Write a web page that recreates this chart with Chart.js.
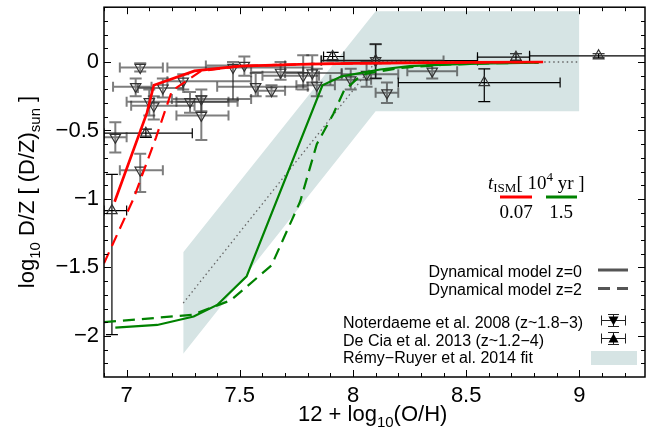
<!DOCTYPE html>
<html>
<head>
<meta charset="utf-8">
<script src="https://cdn.jsdelivr.net/npm/chart.js@4.4.1/dist/chart.umd.min.js"></script>
<style>
  html, body { margin: 0; padding: 0; background: #fff; }
  #wrap { width: 653px; height: 435px; }
</style>
</head>
<body>
<div id="wrap"><canvas id="dz" width="653" height="435"></canvas></div>
<script>
// axis ticks
const xTicks = [7, 7.5, 8, 8.5, 9];
const yTicks = [0, -0.5, -1, -1.5, -2];

// Dynamical model, t_ISM = 0.07 (red) and 1.5 (green), z=0 solid / z=2 dashed
const redZ0OH = [6.947, 7.09, 7.12, 7.30, 7.50, 7.80, 8.00, 8.50, 8.84];
const redZ0DZ = [-1.02, -0.37, -0.17, -0.065, -0.03, -0.015, -0.01, -0.003, 0.0];
const redZ2OH = [6.90, 7.03, 7.13, 7.20, 7.33, 7.50, 7.80, 8.00, 8.50, 8.84];
const redZ2DZ = [-1.47, -1.0, -0.55, -0.21, -0.065, -0.03, -0.015, -0.01, -0.003, 0.0];
const grnZ0OH = [6.95, 7.135, 7.296, 7.40, 7.53, 7.865, 7.95, 8.12, 8.25, 8.43, 8.60, 8.82];
const grnZ0DZ = [-1.94, -1.92, -1.858, -1.774, -1.565, -0.17, -0.105, -0.055, -0.03, -0.018, -0.01, -0.005];
const grnZ2OH = [6.90, 7.29, 7.46, 7.64, 7.767, 7.84, 7.913, 7.96, 8.02, 8.06, 8.20, 8.40, 8.60, 8.82];
const grnZ2DZ = [-1.90, -1.846, -1.74, -1.485, -1.017, -0.60, -0.38, -0.21, -0.12, -0.085, -0.045, -0.02, -0.01, -0.005];

// Remy-Ruyer et al. 2014 fit: band edges and central line
const fitOH = [7.25, 8.1, 9.0];
const fitHi = [-1.39, 0.37, 0.37];
const fitLo = [-2.13, -0.36, -0.36];
const fitDZ = [-1.76, 0.0, 0.0];

// Noterdaeme et al. 2008
const notOH   = [7.06, 7.04, 7.10, 7.12, 7.16, 7.25, 7.28, 7.33, 7.33, 7.47, 7.52, 7.57, 7.64, 7.68, 7.78, 7.82, 7.84, 6.95, 7.06, 7.99, 8.06, 8.10, 8.15, 8.35];
const notDZ   = [-0.04, -0.18, -0.29, -0.32, -0.19, -0.14, -0.29, -0.27, -0.39, -0.04, -0.025, -0.18, -0.21, -0.075, -0.10, -0.08, -0.17, -0.55, -0.79, -0.13, -0.09, 0.01, -0.225, -0.067];
const notOHlo = [6.97, 6.94, 7.00, 7.02, 7.05, 7.18, 7.22, 7.20, 7.22, 7.18, 7.35, 7.40, 7.58, 7.55, 7.60, 7.70, 7.75, 6.90, 6.97, 7.90, 7.95, 7.86, 8.10, 8.24];
const notOHhi = [7.16, 7.11, 7.49, 7.30, 7.25, 7.55, 7.45, 7.55, 7.45, 7.82, 7.70, 7.80, 7.70, 7.78, 7.85, 7.95, 7.92, 7.00, 7.16, 8.08, 8.20, 8.40, 8.20, 8.46];
const notDZlo = [-0.07, -0.25, -0.39, -0.42, -0.26, -0.20, -0.37, -0.36, -0.57, -0.28, -0.10, -0.25, -0.25, -0.13, -0.20, -0.15, -0.25, -0.66, -0.95, -0.20, -0.18, -0.12, -0.30, -0.12];
const notDZhi = [-0.01, -0.12, -0.20, -0.25, -0.12, -0.09, -0.22, -0.20, -0.25, 0.00, 0.04, -0.08, -0.17, 0.00, 0.05, 0.05, -0.05, -0.44, -0.67, -0.05, 0.00, 0.13, -0.15, -0.02];

// De Cia et al. 2013
const dcOH   = [6.935, 7.085, 7.91, 8.10, 8.58, 8.72, 9.085];
const dcDZ   = [-1.085, -0.52, 0.04, 0.01, -0.15, 0.035, 0.045];
const dcOHlo = [6.90, 6.90, 7.87, 7.86, 8.20, 8.55, 8.78];
const dcOHhi = [7.00, 7.29, 7.96, 8.55, 8.915, 8.78, 9.40];
const dcDZlo = [-1.99, -0.55, 0.01, -0.12, -0.29, 0.01, 0.03];
const dcDZhi = [-0.82, -0.49, 0.07, 0.13, -0.05, 0.06, 0.06];

const tLabels = ['0.07', '1.5'];
const RED = '#ff0000', GREEN = '#008200', BAND = 'rgb(214,228,228)';
const SANS = '"Liberation Sans", Arial, sans-serif';
const SERIF = '"Liberation Serif", "Times New Roman", serif';

const pts = (xs, ys) => xs.map((v, i) => ({ x: v, y: ys[i] }));
const errs = (xlo, xhi, ylo, yhi) => xlo.map((v, i) => ({ xlo: v, xhi: xhi[i], ylo: ylo[i], yhi: yhi[i] }));

// text made of runs with their own font and vertical offset (sub/superscripts)
function drawRuns(ctx, runs, x, y, align) {
  let w = 0;
  runs.forEach(r => { ctx.font = r.f; w += ctx.measureText(r.t).width; });
  let cx = align === 'center' ? x - w / 2 : align === 'right' ? x - w : x;
  ctx.textAlign = 'left';
  ctx.textBaseline = 'alphabetic';
  runs.forEach(r => {
    ctx.font = r.f;
    ctx.fillText(r.t, cx, y + (r.dy || 0));
    cx += ctx.measureText(r.t).width;
  });
}

// error bars are drawn right under their markers
const errorBars = {
  id: 'errorBars',
  beforeDatasetDraw(chart, args) {
    const ds = chart.data.datasets[args.index];
    if (!ds.err) return;
    const { ctx, chartArea: a, scales: { x, y } } = chart;
    ctx.save();
    ctx.beginPath();
    ctx.rect(a.left, a.top, a.right - a.left, a.bottom - a.top);
    ctx.clip();
    ctx.strokeStyle = ds.errColor;
    ctx.lineWidth = ds.errWidth;
    ds.err.forEach((e, i) => {
      const px = x.getPixelForValue(ds.data[i].x);
      const py = y.getPixelForValue(ds.data[i].y);
      const x0 = x.getPixelForValue(e.xlo), x1 = x.getPixelForValue(e.xhi);
      const y0 = y.getPixelForValue(e.ylo), y1 = y.getPixelForValue(e.yhi);
      ctx.beginPath();
      ctx.moveTo(x0, py); ctx.lineTo(x1, py);
      ctx.moveTo(x0, py - 5); ctx.lineTo(x0, py + 5);
      ctx.moveTo(x1, py - 5); ctx.lineTo(x1, py + 5);
      ctx.moveTo(px, y0); ctx.lineTo(px, y1);
      ctx.moveTo(px - 6, y0); ctx.lineTo(px + 6, y0);
      ctx.moveTo(px - 6, y1); ctx.lineTo(px + 6, y1);
      ctx.stroke();
    });
    ctx.restore();
  }
};

// box around the plot with inward major/minor ticks on all four sides
const frame = {
  id: 'frame',
  afterDatasetsDraw(chart) {
    const { ctx, chartArea: a, scales: { x, y } } = chart;
    ctx.save();
    ctx.strokeStyle = '#000';
    ctx.lineWidth = 1.5;
    ctx.strokeRect(a.left, a.top, a.right - a.left, a.bottom - a.top);
    ctx.lineWidth = 1;
    ctx.beginPath();
    for (let k = 69; k <= 92; k++) {
      const v = k / 10;
      const len = k % 5 === 0 ? 7 : 4;
      const px = Math.round(x.getPixelForValue(v)) + 0.5;
      if (px <= a.left || px >= a.right) continue;
      ctx.moveTo(px, a.bottom); ctx.lineTo(px, a.bottom - len);
      ctx.moveTo(px, a.top); ctx.lineTo(px, a.top + len);
    }
    for (let k = -23; k <= 4; k++) {
      const v = k / 10;
      const len = k % 5 === 0 ? 7 : 4;
      const py = Math.round(y.getPixelForValue(v)) + 0.5;
      if (py <= a.top || py >= a.bottom) continue;
      ctx.moveTo(a.left, py); ctx.lineTo(a.left + len, py);
      ctx.moveTo(a.right, py); ctx.lineTo(a.right - len, py);
    }
    ctx.stroke();
    ctx.restore();
  },
  afterDraw(chart) {
    const { ctx } = chart;
    const big = '22px ' + SANS, sub = '15px ' + SANS;
    ctx.save();
    ctx.fillStyle = '#000';

    // axis titles
    drawRuns(ctx, [
      { t: '12 + log', f: big }, { t: '10', f: sub, dy: 6 }, { t: '(O/H)', f: big }
    ], 298, 421, 'left');
    ctx.save();
    ctx.translate(34, 192);
    ctx.rotate(-Math.PI / 2);
    drawRuns(ctx, [
      { t: 'log', f: big }, { t: '10', f: sub, dy: 6 }, { t: ' D/Z [ (D/Z)', f: big },
      { t: 'sun', f: sub, dy: 6 }, { t: ' ]', f: big }
    ], 0, 0, 'center');
    ctx.restore();

    // t_ISM key
    const sf = '19px ' + SERIF, ss = '13px ' + SERIF;
    drawRuns(ctx, [
      { t: 't', f: 'italic ' + sf }, { t: 'ISM', f: ss, dy: 3 }, { t: '[ 10', f: sf },
      { t: '4', f: ss, dy: -8 }, { t: ' yr ]', f: sf }
    ], 488, 189, 'left');
    ctx.lineWidth = 3;
    ctx.strokeStyle = RED;
    ctx.beginPath(); ctx.moveTo(500, 197); ctx.lineTo(532, 197); ctx.stroke();
    ctx.strokeStyle = GREEN;
    ctx.beginPath(); ctx.moveTo(546, 197); ctx.lineTo(577, 197); ctx.stroke();
    ctx.font = sf;
    ctx.textAlign = 'center';
    ctx.fillText(tLabels[0], 516, 218);
    ctx.fillText(tLabels[1], 561, 218);

    // legend
    const lf = '16px ' + SANS;
    ctx.font = lf;
    ctx.textAlign = 'right';
    ctx.fillText('Dynamical model z=0', 582, 276.5);
    ctx.fillText('Dynamical model z=2', 582, 295);
    ctx.textAlign = 'left';
    ctx.fillText('Noterdaeme et al. 2008 (z~1.8\u22123)', 343, 328);
    ctx.fillText('De Cia et al. 2013 (z~1.2\u22124)', 343, 345.5);
    ctx.fillText('R\u00e9my\u2212Ruyer et al. 2014 fit', 343, 362.5);

    ctx.strokeStyle = '#555';
    ctx.lineWidth = 3;
    ctx.beginPath(); ctx.moveTo(598, 270); ctx.lineTo(628, 270); ctx.stroke();
    ctx.beginPath();
    ctx.moveTo(598, 288.5); ctx.lineTo(610, 288.5);
    ctx.moveTo(617, 288.5); ctx.lineTo(628, 288.5);
    ctx.stroke();

    ctx.strokeStyle = '#222';
    ctx.fillStyle = '#000';
    ctx.lineWidth = 1;
    [[320.5, true], [338.5, false]].forEach(([yy, down]) => {
      ctx.beginPath();
      ctx.moveTo(601, yy); ctx.lineTo(626, yy);
      ctx.moveTo(601.5, yy - 5); ctx.lineTo(601.5, yy + 5);
      ctx.moveTo(625.5, yy - 5); ctx.lineTo(625.5, yy + 5);
      ctx.moveTo(613.5, yy - 6); ctx.lineTo(613.5, yy + 6);
      ctx.moveTo(608, yy - 6); ctx.lineTo(619, yy - 6);
      ctx.moveTo(608, yy + 6); ctx.lineTo(619, yy + 6);
      ctx.stroke();
      ctx.beginPath();
      if (down) { ctx.moveTo(608.5, yy - 4); ctx.lineTo(618.5, yy - 4); ctx.lineTo(613.5, yy + 5); }
      else { ctx.moveTo(608.5, yy + 4); ctx.lineTo(618.5, yy + 4); ctx.lineTo(613.5, yy - 5); }
      ctx.closePath();
      ctx.fill();
    });
    ctx.fillStyle = BAND;
    ctx.fillRect(591, 351, 46, 14);
    ctx.restore();
  }
};

const lineDs = (xs, ys, color, width, dash, order) => ({
  type: 'line', data: pts(xs, ys), borderColor: color, borderWidth: width,
  borderDash: dash, pointRadius: 0, fill: false, tension: 0, order: order
});

new Chart(document.getElementById('dz'), {
  type: 'scatter',
  data: {
    datasets: [
      lineDs(redZ0OH, redZ0DZ, RED, 2.7, [], 1),
      lineDs(redZ2OH, redZ2DZ, RED, 2.2, [12, 7], 1),
      lineDs(grnZ0OH, grnZ0DZ, GREEN, 2.2, [], 1),
      lineDs(grnZ2OH, grnZ2DZ, GREEN, 2.2, [12, 7], 1),
      {
        data: pts(notOH, notDZ), err: errs(notOHlo, notOHhi, notDZlo, notDZhi),
        errColor: 'rgba(40,40,40,0.6)', errWidth: 2,
        pointStyle: 'triangle', rotation: 180, pointRadius: 6,
        borderColor: '#333', borderWidth: 1.2, backgroundColor: 'rgba(255,255,255,0)', order: 2
      },
      {
        data: pts(dcOH, dcDZ), err: errs(dcOHlo, dcOHhi, dcDZlo, dcDZhi),
        errColor: '#000', errWidth: 1.2,
        pointStyle: 'triangle', rotation: 0, pointRadius: 6,
        borderColor: '#333', borderWidth: 1.2, backgroundColor: 'rgba(255,255,255,0)', order: 2
      },
      lineDs(fitOH, fitDZ, '#666', 1.3, [1.5, 3], 3),
      {
        type: 'line', data: pts(fitOH, fitHi), borderWidth: 0, borderColor: BAND,
        pointRadius: 0, fill: '+1', backgroundColor: BAND, order: 4
      },
      {
        type: 'line', data: pts(fitOH, fitLo), borderWidth: 0, borderColor: BAND,
        pointRadius: 0, fill: false, order: 5
      }
    ]
  },
  options: {
    responsive: false,
    animation: false,
    layout: { padding: { left: 0, top: 4, right: 8, bottom: 0 } },
    plugins: { legend: { display: false }, tooltip: { enabled: false } },
    scales: {
      x: {
        type: 'linear', min: 6.9, max: 9.29,
        afterBuildTicks: s => { s.ticks = xTicks.map(v => ({ value: v })); },
        afterFit: s => { s.height = 58; s.paddingLeft = 0; s.paddingRight = 0; },
        grid: { drawOnChartArea: false, drawTicks: false },
        border: { display: false },
        ticks: { color: '#000', font: { family: SANS, size: 22 }, padding: 6, maxRotation: 0,
          callback: v => String(v) }
      },
      y: {
        type: 'linear', min: -2.3, max: 0.4,
        afterBuildTicks: s => { s.ticks = yTicks.map(v => ({ value: v })); },
        afterFit: s => { s.width = 104; s.paddingTop = 0; s.paddingBottom = 0; },
        grid: { drawOnChartArea: false, drawTicks: false },
        border: { display: false },
        ticks: { color: '#000', font: { family: SANS, size: 22 }, padding: 5,
          callback: v => v === 0 ? '0' : '\u2212' + String(Math.abs(v)) }
      }
    }
  },
  plugins: [errorBars, frame]
});
</script>
</body>
</html>
